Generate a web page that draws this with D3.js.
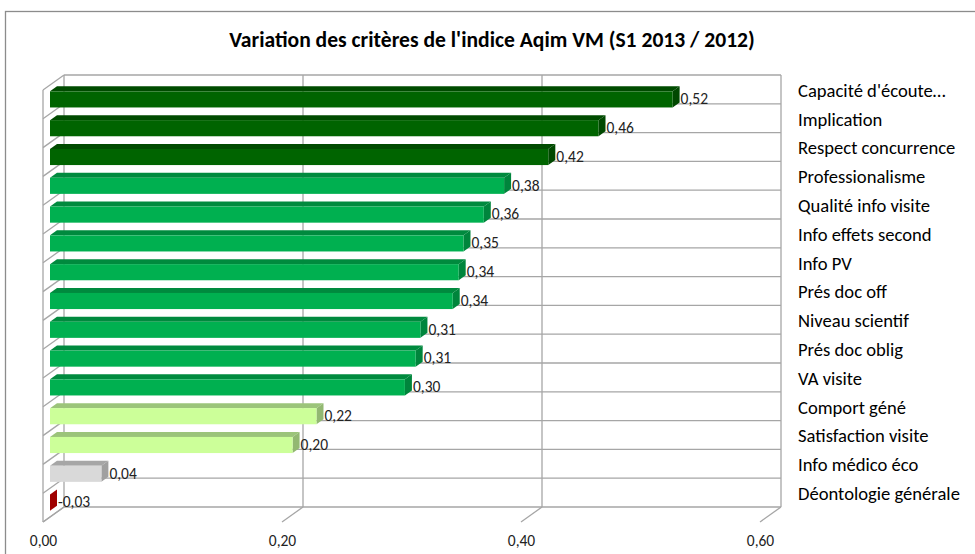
<!DOCTYPE html>
<html>
<head>
<meta charset="utf-8">
<script src="https://cdn.jsdelivr.net/npm/d3@7"></script>
<style>
  body { margin: 0; background: #fff; }
  svg { display: block; font-family: Carlito, Calibri, "Liberation Sans", sans-serif; }
</style>
</head>
<body>
<div id="chart"></div>
<script>
const categories = ["Capacité d'écoute…", "Implication", "Respect concurrence", "Professionalisme",
  "Qualité info visite", "Info effets second", "Info PV", "Prés doc off", "Niveau scientif",
  "Prés doc oblig", "VA visite", "Comport géné", "Satisfaction visite", "Info médico éco",
  "Déontologie générale"];
const values = [0.521, 0.459, 0.417, 0.380, 0.363, 0.346, 0.342, 0.337, 0.310, 0.306, 0.297, 0.223, 0.203, 0.043, -0.03];
const xTicks = [0, 0.2, 0.4, 0.6];
const title = "Variation des critères de l'indice Aqim VM (S1 2013 / 2012)";

const w = 975, h = 554;
// front plane origin and 3d depth offset
const fx = 43, fy = 90, dx = 21, dy = -15;
const plotW = 717, plotH = 432;
const font = 'Carlito, Calibri, "Liberation Sans", sans-serif';

const fr = d3.formatLocale({decimal: ",", thousands: " ", grouping: [3], currency: ["", "€"], minus: "-"});
const fmt = fr.format(".2f");

const x = d3.scaleLinear().domain([0, 0.6]).range([0, plotW]).clamp(true);
const y = d3.scaleBand().domain(categories).range([0, plotH]).paddingInner(0.44).paddingOuter(0.22);

// face colours: [front, top, side]
const color = d3.scaleThreshold()
  .domain([0, 0.1, 0.25, 0.4])
  .range([
    ["#c00000", "#8e0000", "#a00000"],
    ["#d9d9d9", "#a6a6a6", "#a0a0a0"],
    ["#ccff99", "#9bc47a", "#92b872"],
    ["#00b050", "#008a3e", "#00853c"],
    ["#006400", "#004b00", "#004800"]
  ]);

const svg = d3.select('#chart').append('svg')
  .attr('width', w).attr('height', h);

// outer border (only top & left visible)
svg.append('rect')
  .attr('x', 5.5).attr('y', 11.5)
  .attr('width', w + 20).attr('height', h + 20)
  .attr('fill', 'none').attr('stroke', '#8c8c8c').attr('stroke-width', 1.3);

svg.append('text')
  .attr('x', 492).attr('y', 47)
  .attr('text-anchor', 'middle')
  .attr('font-size', 21.6).attr('font-weight', 'bold')
  .attr('fill', '#000')
  .text(title);

const grid = svg.append('g')
  .attr('stroke', '#a6a6a6').attr('stroke-width', 1.3).attr('fill', 'none');

const bx = fx + dx, by = fy + dy;
const rowLines = d3.range(categories.length + 1).map(i => i * y.step());

// back wall
grid.selectAll('.hline').data(rowLines).enter().append('line')
  .attr('x1', bx).attr('x2', bx + plotW)
  .attr('y1', d => by + d).attr('y2', d => by + d);
grid.selectAll('.vline').data(xTicks).enter().append('line')
  .attr('x1', d => bx + x(d)).attr('x2', d => bx + x(d))
  .attr('y1', by).attr('y2', by + plotH);
// side wall
grid.selectAll('.dline').data(rowLines).enter().append('line')
  .attr('x1', fx).attr('y1', d => fy + d)
  .attr('x2', bx).attr('y2', d => by + d);
grid.append('line')
  .attr('x1', fx).attr('x2', fx).attr('y1', fy).attr('y2', fy + plotH);
// floor ticks
grid.selectAll('.tick3d').data(xTicks).enter().append('line')
  .attr('x1', d => fx + x(d)).attr('y1', fy + plotH)
  .attr('x2', d => bx + x(d)).attr('y2', by + plotH);

// x tick labels
svg.append('g')
  .attr('transform', `translate(${fx},${fy + plotH + 10})`)
  .call(d3.axisBottom(x).tickValues(xTicks).tickFormat(fmt).tickSize(0))
  .call(g => g.select('.domain').remove())
  .call(g => g.selectAll('text').attr('font-size', 15.5).attr('fill', '#222')
    .style('font-family', font));

// category labels on the right
svg.append('g')
  .attr('transform', `translate(${bx + plotW + 17},${by + 1.5})`)
  .call(d3.axisRight(y).tickSize(0))
  .call(g => g.select('.domain').remove())
  .call(g => g.selectAll('text').attr('font-size', 18.6).attr('fill', '#000').attr('x', 0)
    .style('font-family', font));

// 3d bars, placed between 1/3 and 2/3 of the depth
const t0 = 1 / 3, t1 = 2 / 3;
const ox0 = fx + dx * t0, oy0 = fy + dy * t0;
const ddx = dx * (t1 - t0), ddy = dy * (t1 - t0);

const data = categories.map((c, i) => ({c, v: values[i]}));
const bars = svg.append('g').selectAll('g').data(data).enter().append('g');

bars.each(function(d) {
  const g = d3.select(this);
  const x1 = ox0 + x(0), x2 = ox0 + x(d.v);
  const yT = oy0 + y(d.c), yB = yT + y.bandwidth();
  const col = color(d.v);
  const pts = p => p.map(q => q.join(',')).join(' ');
  g.append('polygon').attr('fill', col[1])
    .attr('points', pts([[x1, yT], [x2, yT], [x2 + ddx, yT + ddy], [x1 + ddx, yT + ddy]]));
  g.append('polygon').attr('fill', col[2])
    .attr('points', pts([[x2, yT], [x2 + ddx, yT + ddy], [x2 + ddx, yB + ddy], [x2, yB]]));
  g.append('rect').attr('fill', col[0])
    .attr('x', x1).attr('y', yT).attr('width', x2 - x1).attr('height', yB - yT);
  g.append('text')
    .attr('x', x2 + ddx + 1).attr('y', (yT + yB) / 2 + 1)
    .attr('dominant-baseline', 'middle')
    .attr('font-size', 15.5).attr('fill', '#222')
    .text(fmt(d.v));
});
</script>
</body>
</html>
